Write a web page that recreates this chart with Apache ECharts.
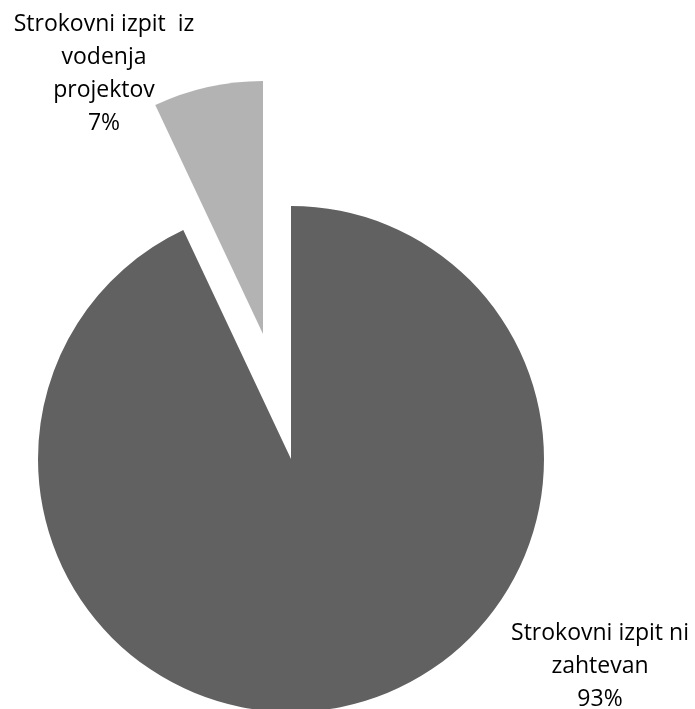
<!DOCTYPE html>
<html>
<head>
<meta charset="utf-8">
<script src="https://cdn.jsdelivr.net/npm/echarts@6/dist/echarts.min.js"></script>
<style>
html,body{margin:0;padding:0;background:#fff;}
#chart{width:695px;height:709px;}
</style>
</head>
<body>
<div id="chart"></div>
<script>
var categories = ['Strokovni izpit ni\nzahtevan', 'Strokovni izpit  iz\nvodenja\nprojektov'];
var values = [93, 7];
var colors = ['#616161', '#b3b3b3'];
var labelCenters = [[600, 666], [104, 74]];
// slice 1 (7%) is pulled out of the pie
var pieCenters = [[291, 459], [263, 334]];

var chart = echarts.init(document.getElementById('chart'), null, {renderer: 'canvas'});

function makeSeries(k) {
  return {
    type: 'pie',
    center: pieCenters[k],
    radius: [0, 253],
    startAngle: 90,
    clockwise: true,
    avoidLabelOverlap: false,
    emphasis: {disabled: true},
    silent: true,
    itemStyle: {borderWidth: 0},
    label: {
      show: true,
      position: 'outside',
      formatter: function (p) { return p.name + '\n' + p.value + '%'; },
      fontFamily: 'Open Sans',
      fontSize: 23,
      lineHeight: 33,
      color: '#000000',
      align: 'center'
    },
    labelLine: {show: false},
    labelLayout: function (params) {
      var c = labelCenters[params.dataIndex];
      return {x: c[0], y: c[1], align: 'center', verticalAlign: 'middle', hideOverlap: false};
    },
    data: categories.map(function (c, i) {
      return {
        name: c,
        value: values[i],
        itemStyle: {color: i === k ? colors[i] : 'rgba(0,0,0,0)'},
        label: {show: i === k}
      };
    })
  };
}

chart.setOption({
  animation: false,
  backgroundColor: '#ffffff',
  series: [makeSeries(0), makeSeries(1)]
});
</script>
</body>
</html>
